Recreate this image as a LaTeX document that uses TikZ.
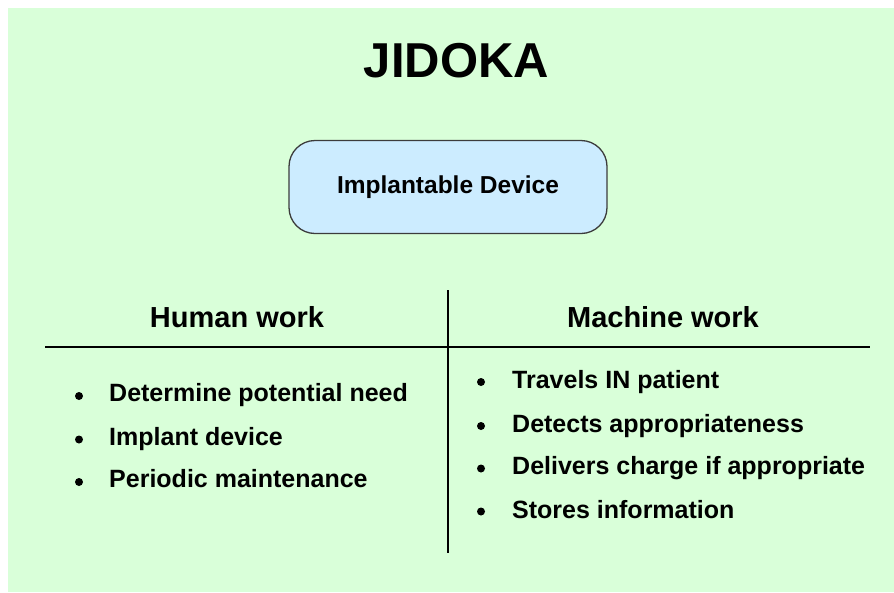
\documentclass[tikz,border=0pt]{standalone}
\usepackage{fontspec}
\setmainfont{Liberation Sans}
\usetikzlibrary{positioning}
\definecolor{jidokabg}{RGB}{217,255,217}
\definecolor{devicefill}{RGB}{204,236,255}
\definecolor{deviceline}{RGB}{60,60,60}

\begin{document}
\begin{tikzpicture}[x=1pt,y=-1pt]
        \tikzstyle{every node}=[inner sep=0pt,font=\bfseries]
        \tikzstyle{heading}=[anchor=base,font=\fontsize{29}{34}\selectfont\bfseries]
        \tikzstyle{itemtext}=[anchor=base west,font=\fontsize{25}{30}\selectfont\bfseries]
        \tikzstyle{bullet}=[circle,fill=black,minimum size=8pt]
        \tikzstyle{divider}=[line width=2pt]

        \useasboundingbox (0,0) rectangle (894,592);
        \fill[jidokabg] (8,8) rectangle (894,592);

        %%% Title and device
        \node[anchor=base,font=\fontsize{49}{56}\selectfont\bfseries] (title) at (456.5,77) {JIDOKA};
        \node[draw=deviceline,line width=1.3pt,fill=devicefill,rounded corners=26pt,
              minimum width=318pt,minimum height=93pt,font=\fontsize{24.5}{29}\selectfont\bfseries] (device) at (448,187) {Implantable Device};

        %%% Table lines
        \coordinate (vtop) at (448,290);
        \coordinate (vbot) at (448,553);
        \coordinate (hleft) at (45,347);
        \coordinate (hright) at (870,347);
        \draw[divider] (vtop) -- (vbot);
        \draw[divider] (hleft) -- (hright);

        \node[heading] (human) at (237,327) {Human work};
        \node[heading] (machine) at (663,327) {Machine work};

        %%% Human work
        \node[bullet] (hb1) at (79,396) {};
        \node[bullet] (hb2) at (79,439.5) {};
        \node[bullet] (hb3) at (79,482) {};
        \node[itemtext] (h1) at (109,401) {Determine potential need};
        \node[itemtext] (h2) at (109,445) {Implant device};
        \node[itemtext] (h3) at (109,487) {Periodic maintenance};

        %%% Machine work
        \node[bullet] (mb1) at (481,382) {};
        \node[bullet] (mb2) at (481,426) {};
        \node[bullet] (mb3) at (481,468.5) {};
        \node[bullet] (mb4) at (481,511.5) {};
        \node[itemtext] (m1) at (512,388) {Travels IN patient};
        \node[itemtext] (m2) at (512,432) {Detects appropriateness};
        \node[itemtext] (m3) at (512,474.5) {Delivers charge if appropriate};
        \node[itemtext] (m4) at (512,518) {Stores information};
\end{tikzpicture}
\end{document}
